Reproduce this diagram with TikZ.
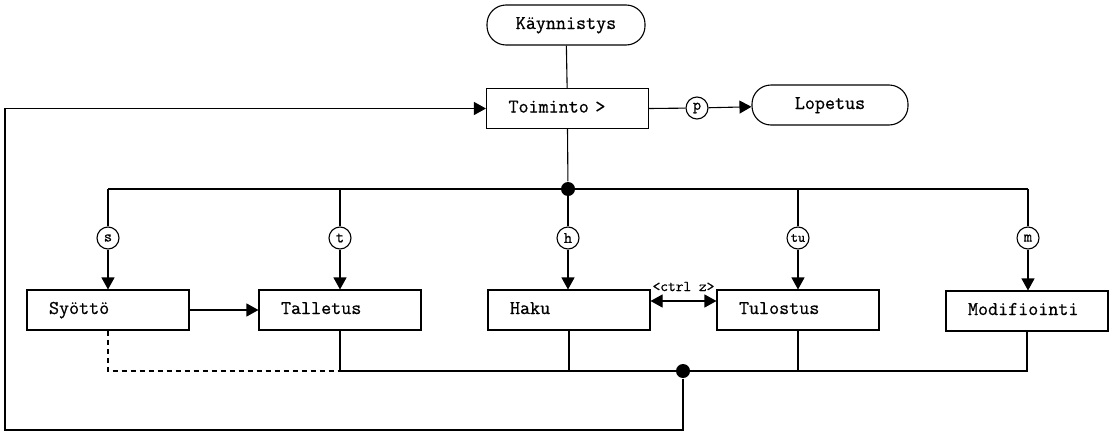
\documentclass[tikz,border=0pt]{standalone}
\usepackage{fontspec}
\setmainfont{Latin Modern Mono}[FakeBold=0.7]
\usetikzlibrary{arrows.meta}
\begin{document}
\begin{tikzpicture}[x=1pt,y=-1pt, line width=1.1pt,
 box/.style={draw, minimum height=40pt, text width=118pt, text height=11pt, text depth=3pt, inner xsep=22pt, inner ysep=0pt, align=left, font=\fontsize{19.5}{20}\selectfont},
 term/.style={draw, rounded corners=19pt, minimum height=40pt, text height=11pt, text depth=3pt, font=\fontsize{19.5}{20}\selectfont},
 key/.style={draw, circle, minimum size=22pt, inner sep=0pt, font=\fontsize{16}{17}\selectfont, fill=white},
 dot/.style={circle, fill=black, minimum size=14pt, inner sep=0pt},
 arr/.style={-{Triangle[length=12pt,width=13pt]}},
 darr/.style={{Triangle[length=12pt,width=13pt]}-{Triangle[length=12pt,width=13pt]}}
]
\useasboundingbox (0,0) rectangle (1113,434);

\node[term, minimum width=158pt] (kay) at (566,25) {Käynnistys};
\node[box] (toi) at (567.5,108.5) {Toiminto >};
\node[term, minimum width=156pt] (lop) at (830,105) {Lopetus};
\node[key] (p) at (697,108) {p};

\node[box] (syo) at (108,310) {Syöttö};
\node[box] (tal) at (340,310) {Talletus};
\node[box] (hak) at (569,310) {Haku};
\node[box] (tul) at (798,310) {Tulostus};
\node[box] (mod) at (1027,311) {Modifiointi};

\node[dot] (topdot) at (568,189) {};
\node[dot] (botdot) at (683,371) {};

\node[key] (s) at (108,238) {s};
\node[key] (t) at (340,238) {t};
\node[key] (h) at (568,238) {h};
\node[key, font=\fontsize{14}{15}\selectfont] (tu) at (798,238) {tu};
\node[key] (m) at (1028,238) {m};

\coordinate (lc) at (5,430);

% top
\draw (kay) -- (toi);
\draw (toi.east) -- (p);
\draw[arr] (p) -- (lop);
\draw (toi.south) -- (topdot);

% distribution line
\draw (s |- topdot) -- (m |- topdot);
\foreach \k/\b in {s/syo, t/tal, h/hak, tu/tul, m/mod} {
  \draw (\k |- topdot) -- (\k);
  \draw[arr] (\k) -- (\k |- \b.north);
}

% horizontal links
\draw[arr] (syo) -- (tal);
\draw[darr] ([yshift=9pt]hak.east) -- ([yshift=9pt]tul.west)
  node[midway, above=6pt, font=\fontsize{15}{16}\selectfont] (ctrl) {<ctrl z>};

% collection line
\draw (tal.south) -- (tal.south |- botdot) -- (mod.south |- botdot) -- (mod.south);
\draw (hak.south) -- (hak.south |- botdot);
\draw (tul.south) -- (tul.south |- botdot);
\draw[dashed, dash pattern=on 5pt off 4pt] (syo.south) |- (tal.south |- botdot);

% loop back
\draw[arr] (botdot) |- (lc) |- (toi.west);
\end{tikzpicture}
\end{document}
